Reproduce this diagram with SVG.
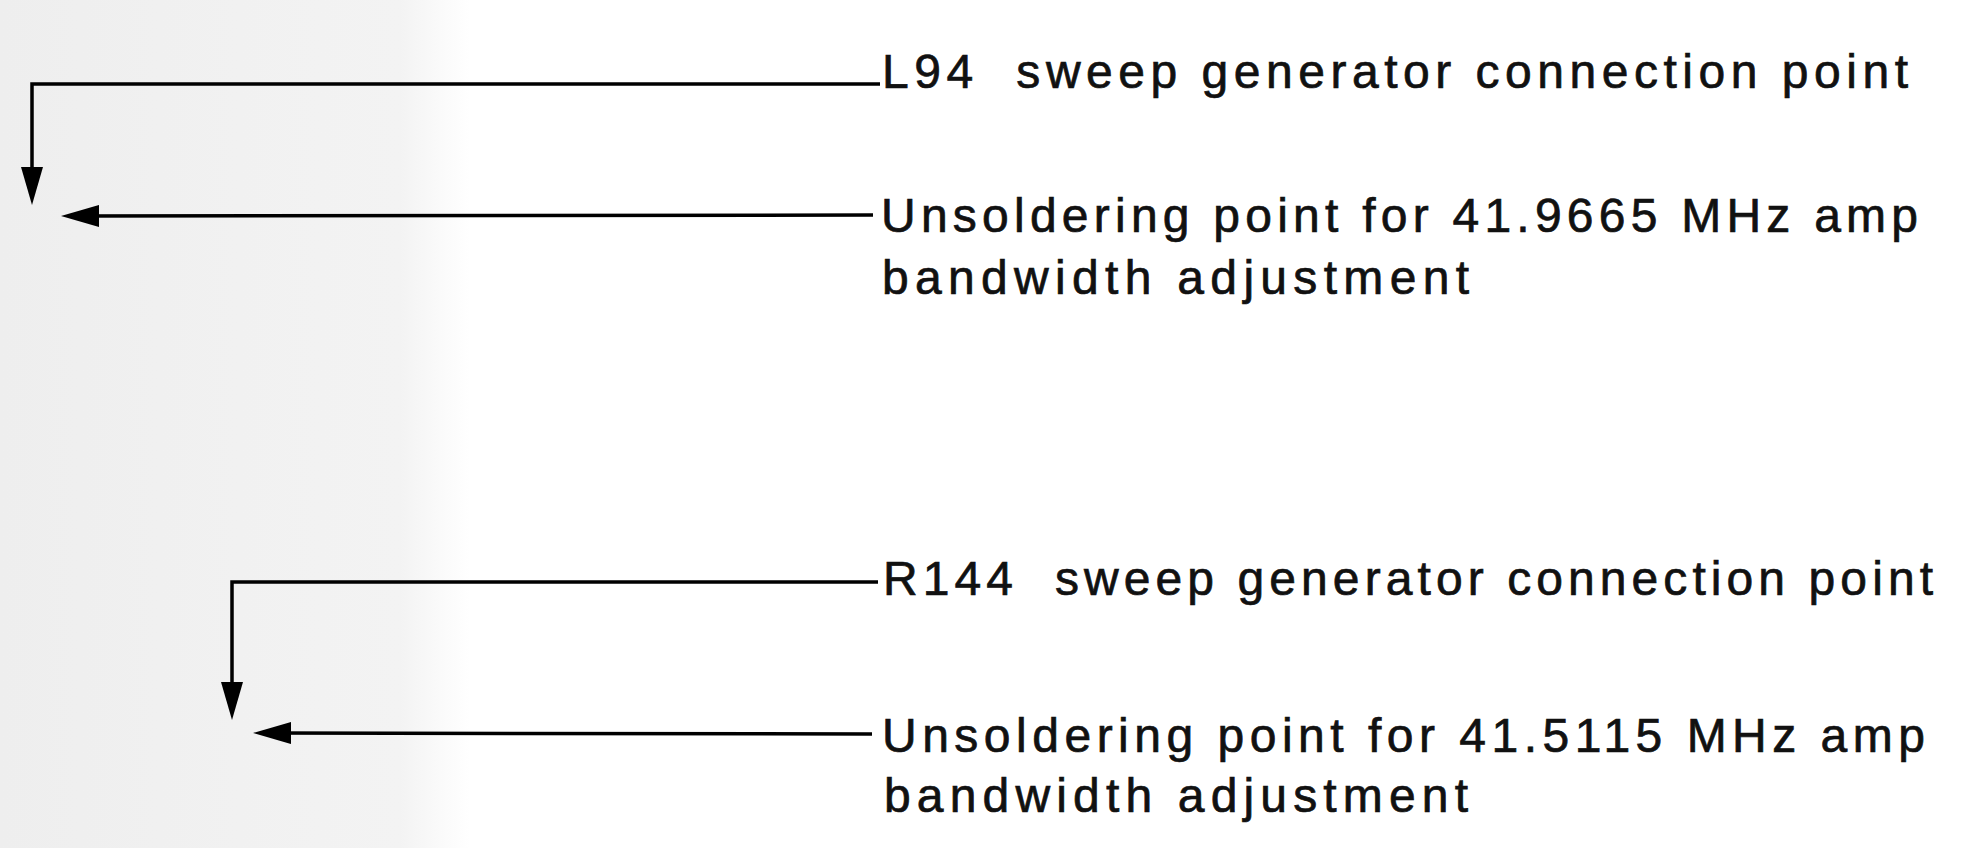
<svg xmlns="http://www.w3.org/2000/svg" width="1981" height="848" viewBox="0 0 1981 848">
  <defs>
    <marker id="arrow" viewBox="0 0 38 22" markerWidth="38" markerHeight="22" markerUnits="userSpaceOnUse" refX="18" refY="11" orient="auto">
      <path d="M0,0 L38,11 L0,22 Z" fill="#000"/>
    </marker>
    <linearGradient id="bg" x1="0" y1="0" x2="1" y2="0">
      <stop offset="0" stop-color="#eeeeee"/>
      <stop offset="0.85" stop-color="#f3f3f3"/>
      <stop offset="1" stop-color="#ffffff"/>
    </linearGradient>
  </defs>
  <style>
    .lbl { font-family: "Liberation Sans", Arial, Helvetica, sans-serif; font-size: 48px; fill: #111; stroke: #111; stroke-width: 0.7; white-space: pre; }
    .conn { fill: none; stroke: #000; stroke-width: 3.5; stroke-linejoin: miter; }
  </style>
  <rect x="0" y="0" width="1981" height="848" fill="#ffffff"/>
  <rect x="0" y="0" width="470" height="848" fill="url(#bg)"/>

  <g id="connectors">
    <polyline class="conn" points="880,84 32,84 32,185" marker-end="url(#arrow)"/>
    <line class="conn" x1="873" y1="215" x2="81" y2="216" marker-end="url(#arrow)"/>
    <polyline class="conn" points="878,582 232,582 232,700" marker-end="url(#arrow)"/>
    <line class="conn" x1="872" y1="734" x2="273" y2="733" marker-end="url(#arrow)"/>
  </g>

  <g id="label-l94">
    <text class="lbl" x="882" y="88" xml:space="preserve" textLength="1026" lengthAdjust="spacing">L94  sweep generator connection point</text>
  </g>
  <g id="label-unsolder-1">
    <text class="lbl" x="881" y="232" textLength="1037" lengthAdjust="spacing">Unsoldering point for 41.9665 MHz amp</text>
    <text class="lbl" x="882" y="294" textLength="587" lengthAdjust="spacing">bandwidth adjustment</text>
  </g>
  <g id="label-r144">
    <text class="lbl" x="883" y="595" xml:space="preserve" textLength="1050" lengthAdjust="spacing">R144  sweep generator connection point</text>
  </g>
  <g id="label-unsolder-2">
    <text class="lbl" x="882" y="752" textLength="1043" lengthAdjust="spacing">Unsoldering point for 41.5115 MHz amp</text>
    <text class="lbl" x="884" y="812" textLength="584" lengthAdjust="spacing">bandwidth adjustment</text>
  </g>
</svg>
